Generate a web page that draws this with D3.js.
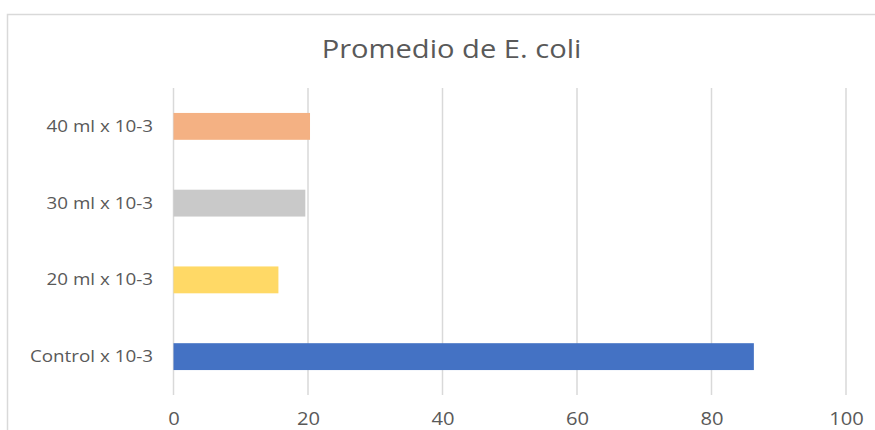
<!DOCTYPE html>
<html>
<head>
<meta charset="utf-8">
<script src="https://cdn.jsdelivr.net/npm/d3@7"></script>
<style>
  body { margin: 0; background: #fff; }
</style>
</head>
<body>
<div id="chart"></div>
<script>
// data, bottom to top as in the picture
var categories = ["Control x 10-3", "20 ml x 10-3", "30 ml x 10-3", "40 ml x 10-3"];
var values = [86.3, 15.6, 19.6, 20.3];
var barColors = ["#4472C4", "#FFD966", "#C9C9C9", "#F4B183"];
var xTicks = [0, 20, 40, 60, 80, 100];
var chartTitle = "Promedio de E. coli";

var attrs = {
    svgWidth: 875,
    svgHeight: 430,
    plotLeft: 173.5,
    plotRight: 846,
    plotTop: 88,
    plotBottom: 395,
    textFill: '#595959',
    gridColor: '#D9D9D9',
    font: 'Open Sans',
    stretch: 1.12  // text in the picture is a bit wider than normal
};

var svg = d3.select('#chart').append('svg')
    .attr('width', attrs.svgWidth)
    .attr('height', attrs.svgHeight)
    .attr('font-family', attrs.font);

// chart frame (cut off on the right and bottom)
svg.append('path')
    .attr('d', 'M7.5,' + attrs.svgHeight + ' V14.5 H' + attrs.svgWidth)
    .attr('fill', 'none')
    .attr('stroke', attrs.gridColor)
    .attr('stroke-width', 1.5);

var x = d3.scaleLinear()
    .domain([0, 100])
    .range([attrs.plotLeft, attrs.plotRight]);

// top category first on screen
var y = d3.scaleBand()
    .domain(categories.slice().reverse())
    .range([attrs.plotTop, attrs.plotBottom])
    .paddingInner(0.65)
    .paddingOuter(0.325);

// vertical gridlines
svg.append('g').selectAll('line')
    .data(xTicks)
    .enter().append('line')
    .attr('x1', d => x(d)).attr('x2', d => x(d))
    .attr('y1', attrs.plotTop).attr('y2', attrs.plotBottom)
    .attr('stroke', attrs.gridColor)
    .attr('stroke-width', 1.5);

// bars
svg.append('g').selectAll('rect')
    .data(categories)
    .enter().append('rect')
    .attr('x', x(0))
    .attr('y', d => y(d))
    .attr('width', (d, i) => x(values[i]) - x(0))
    .attr('height', y.bandwidth())
    .attr('fill', (d, i) => barColors[i]);

// x axis labels
var xAxis = d3.axisBottom(x).tickValues(xTicks).tickSize(0).tickPadding(0);
var gx = svg.append('g')
    .attr('transform', 'translate(0,' + (attrs.plotBottom + 17) + ')')
    .call(xAxis);
gx.select('.domain').remove();
gx.selectAll('text')
    .attr('font-size', 18)
    .attr('font-family', attrs.font)
    .attr('fill', attrs.textFill)
    .attr('transform', 'scale(' + attrs.stretch + ',1)');

// y axis labels
var yAxis = d3.axisLeft(y).tickSize(0).tickPadding(0);
var gy = svg.append('g')
    .attr('transform', 'translate(' + (attrs.plotLeft - 20.5) + ',0)')
    .call(yAxis);
gy.select('.domain').remove();
gy.selectAll('text')
    .attr('x', 0)
    .attr('font-size', 16.8)
    .attr('font-family', attrs.font)
    .attr('fill', attrs.textFill)
    .attr('transform', 'scale(' + attrs.stretch + ',1)');

// title
svg.append('g')
    .attr('transform', 'translate(451.5,58) scale(' + attrs.stretch + ',1)')
  .append('text')
    .attr('text-anchor', 'middle')
    .attr('font-size', 26)
    .attr('fill', attrs.textFill)
    .text(chartTitle);
</script>
</body>
</html>
